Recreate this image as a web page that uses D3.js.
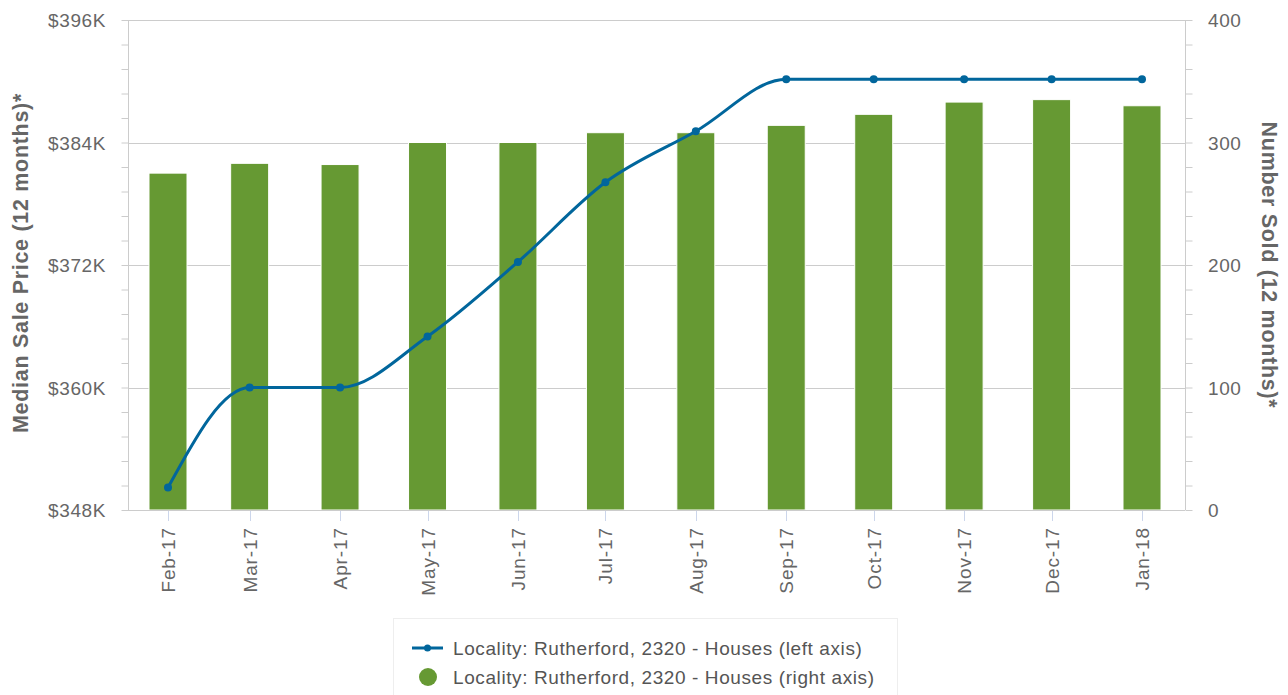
<!DOCTYPE html>
<html>
<head>
<meta charset="utf-8">
<script src="https://cdn.jsdelivr.net/npm/d3@7/dist/d3.min.js"></script>
<style>
body { margin: 0; background: #fff; }
svg { font-family: "Liberation Sans", Arial, sans-serif; }
</style>
</head>
<body>
<svg width="1288" height="695"></svg>
<script>
// month labels + data
var months = ["2017-02-01","2017-03-01","2017-04-01","2017-05-01","2017-06-01","2017-07-01",
              "2017-08-01","2017-09-01","2017-10-01","2017-11-01","2017-12-01","2018-01-01"];
var monthLabels = ["Feb-17","Mar-17","Apr-17","May-17","Jun-17","Jul-17",
                   "Aug-17","Sep-17","Oct-17","Nov-17","Dec-17","Jan-18"];
var medianPrice = [350.2, 360, 360, 365, 372.3, 380.1, 385.1, 390.2, 390.2, 390.2, 390.2, 390.2]; // $K, left axis
var numberSold = [275, 283, 282, 300, 300, 308, 308, 314, 323, 333, 335, 330]; // right axis
var leftTicks = [348, 360, 372, 384, 396];
var rightTicks = [0, 100, 200, 300, 400];
var seriesName = "Locality: Rutherford, 2320 - Houses";

var svg = d3.select("svg");
var plotLeft = 128, plotRight = 1185, plotTop = 20, plotBottom = 510;

var parse = d3.utcParse("%Y-%m-%d");
var dates = months.map(parse);

// datetime axis, so Feb is a bit narrower
var x = d3.scaleUtc()
    .domain([dates[0], dates[dates.length - 1]])
    .range([168, 1142]);

var yL = d3.scaleLinear().domain([348, 396]).range([plotBottom, plotTop]);
var yR = d3.scaleLinear().domain([0, 400]).range([plotBottom, plotTop]);

var grey = "#666666";
var labelSize = 19, labelSpacing = 0.6;

// grid
svg.append("g")
    .selectAll("line")
    .data(leftTicks)
    .enter()
    .append("line")
    .attr("x1", plotLeft).attr("x2", plotRight)
    .attr("y1", function(d){ return Math.round(yL(d)) + 0.5; })
    .attr("y2", function(d){ return Math.round(yL(d)) + 0.5; })
    .attr("stroke", "#cccccc");

// bars
svg.append("g")
    .selectAll("rect")
    .data(numberSold)
    .enter()
    .append("rect")
    .attr("x", function(d, i){ return x(dates[i]) - 19; })
    .attr("width", 38)
    .attr("y", function(d){ return yR(d); })
    .attr("height", function(d){ return plotBottom - yR(d); })
    .attr("fill", "#669933")
    .attr("stroke", "#ffffff")
    .attr("stroke-width", 1);

// left axis
var axL = svg.append("g").attr("transform", "translate(" + (plotLeft + 0.5) + ",0)");
axL.call(d3.axisLeft(yL).tickValues(d3.range(348, 396.1, 2.4)).tickSize(7).tickFormat(""));
axL.selectAll("path,line").attr("stroke", "#cccccc");
axL.select(".domain").attr("d", "M0," + plotTop + "V" + plotBottom);
svg.append("g")
    .selectAll("text")
    .data(leftTicks)
    .enter()
    .append("text")
    .attr("x", 106)
    .attr("y", function(d){ return yL(d) + 7; })
    .attr("text-anchor", "end")
    .attr("font-size", labelSize)
    .attr("letter-spacing", labelSpacing)
    .attr("fill", grey)
    .text(function(d){ return "$" + d + "K"; });

// right axis
var axR = svg.append("g").attr("transform", "translate(" + (plotRight + 0.5) + ",0)");
axR.call(d3.axisRight(yR).tickValues(d3.range(0, 401, 20)).tickSize(7).tickFormat(""));
axR.selectAll("path,line").attr("stroke", "#cccccc");
axR.select(".domain").attr("d", "M0," + plotTop + "V" + plotBottom);
svg.append("g")
    .selectAll("text")
    .data(rightTicks)
    .enter()
    .append("text")
    .attr("x", 1208)
    .attr("y", function(d){ return yR(d) + 7; })
    .attr("font-size", labelSize)
    .attr("letter-spacing", labelSpacing)
    .attr("fill", grey)
    .text(function(d){ return d; });

// bottom axis
svg.append("line")
    .attr("x1", plotLeft).attr("x2", plotRight)
    .attr("y1", plotBottom + 0.5).attr("y2", plotBottom + 0.5)
    .attr("stroke", "#cccccc");
var xg = svg.append("g");
xg.selectAll("line")
    .data(dates)
    .enter()
    .append("line")
    .attr("x1", function(d){ return Math.round(x(d)) + 0.5; })
    .attr("x2", function(d){ return Math.round(x(d)) + 0.5; })
    .attr("y1", plotBottom + 1).attr("y2", plotBottom + 11)
    .attr("stroke", "#ccd6eb");
xg.selectAll("text")
    .data(dates)
    .enter()
    .append("text")
    .attr("transform", function(d){ return "translate(" + (x(d) + 7) + "," + 527 + ") rotate(-90)"; })
    .attr("text-anchor", "end")
    .attr("font-size", labelSize)
    .attr("letter-spacing", 0.9)
    .attr("fill", grey)
    .text(function(d, i){ return monthLabels[i]; });

// line
var blue = "#01669c";
var line = d3.line()
    .x(function(d, i){ return x(dates[i]); })
    .y(function(d){ return yL(d); })
    .curve(d3.curveMonotoneX);
svg.append("path")
    .datum(medianPrice)
    .attr("d", line)
    .attr("fill", "none")
    .attr("stroke", blue)
    .attr("stroke-width", 3);
svg.append("g")
    .selectAll("circle")
    .data(medianPrice)
    .enter()
    .append("circle")
    .attr("cx", function(d, i){ return x(dates[i]); })
    .attr("cy", function(d){ return yL(d); })
    .attr("r", 4)
    .attr("fill", blue);

// axis titles
svg.append("text")
    .attr("transform", "translate(28,263) rotate(-90)")
    .attr("text-anchor", "middle")
    .attr("font-size", 21.5)
    .attr("letter-spacing", 0.7)
    .attr("font-weight", "bold")
    .attr("fill", grey)
    .text("Median Sale Price (12 months)*");
svg.append("text")
    .attr("transform", "translate(1262,265) rotate(90)")
    .attr("text-anchor", "middle")
    .attr("font-size", 21.5)
    .attr("letter-spacing", 0.7)
    .attr("font-weight", "bold")
    .attr("fill", grey)
    .text("Number Sold (12 months)*");

// legend
var lg = svg.append("g");
lg.append("rect")
    .attr("x", 393.5).attr("y", 618.5)
    .attr("width", 504).attr("height", 90)
    .attr("fill", "none")
    .attr("stroke", "#eeeeee");
lg.append("line")
    .attr("x1", 412).attr("x2", 443)
    .attr("y1", 648).attr("y2", 648)
    .attr("stroke", blue).attr("stroke-width", 3);
lg.append("circle").attr("cx", 427.5).attr("cy", 648).attr("r", 3.5).attr("fill", blue);
lg.append("circle").attr("cx", 428).attr("cy", 677).attr("r", 9).attr("fill", "#669933");
lg.selectAll("text.item")
    .data([seriesName + " (left axis)", seriesName + " (right axis)"])
    .enter()
    .append("text")
    .attr("x", 453)
    .attr("y", function(d, i){ return 655 + i * 29; })
    .attr("font-size", labelSize)
    .attr("letter-spacing", labelSpacing)
    .attr("fill", "#555555")
    .text(function(d){ return d; });
</script>
</body>
</html>
